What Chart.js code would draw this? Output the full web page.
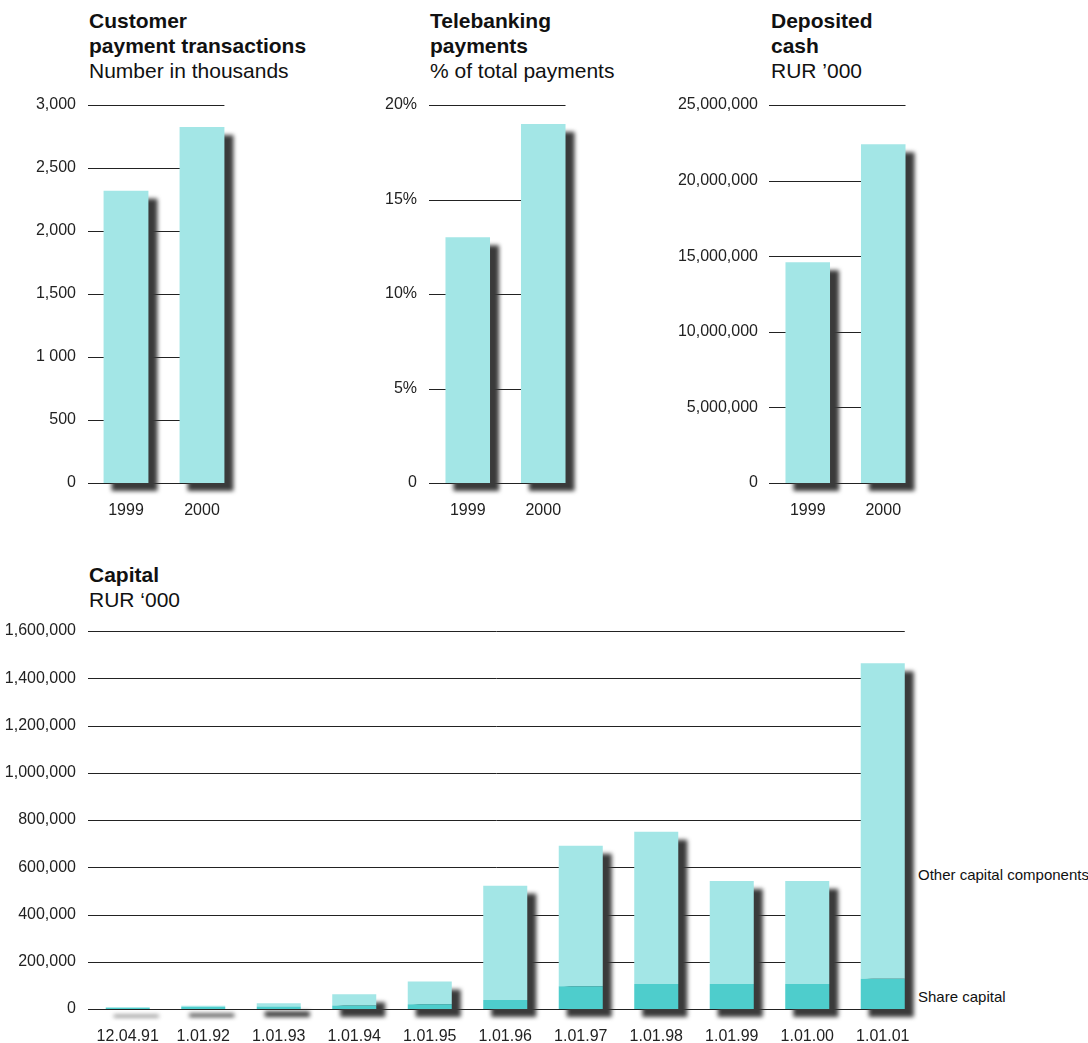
<!DOCTYPE html>
<html>
<head>
<meta charset="utf-8">
<script src="https://cdn.jsdelivr.net/npm/chart.js@4"></script>
<style>
  body { margin: 0; background: #fff; width: 1088px; height: 1043px; overflow: hidden; position: relative;
         font-family: "Liberation Sans", Arial, sans-serif; color: #111; }
  canvas { position: absolute; }
  .ttl { position: absolute; font-size: 21px; line-height: 25px; white-space: nowrap; }
  .ttl b { display: block; }
  .side { position: absolute; font-size: 15px; line-height: 18px; white-space: nowrap; color: #111; }
</style>
</head>
<body>

<div class="ttl" style="left:89px;top:8px"><b>Customer</b><b>payment transactions</b>Number in thousands</div>
<div class="ttl" style="left:430px;top:8px"><b>Telebanking</b><b>payments</b>% of total payments</div>
<div class="ttl" style="left:771px;top:8px"><b>Deposited</b><b>cash</b>RUR ’000</div>
<div class="ttl" style="left:89px;top:562px"><b>Capital</b>RUR ‘000</div>
<div class="side" style="left:918px;top:866px">Other capital components</div>
<div class="side" style="left:918px;top:988px">Share capital</div>

<canvas id="c1"></canvas>
<canvas id="c2"></canvas>
<canvas id="c3"></canvas>
<canvas id="c4"></canvas>

<script>
var years = ['1999', '2000'];

var paymentTx = [2320, 2825];
var txTicks = ['0', '500', '1 000', '1,500', '2,000', '2,500', '3,000'];

var telebanking = [13, 19];
var pctTicks = ['0', '5%', '10%', '15%', '20%'];

var depositedCash = [14600000, 22400000];
var cashTicks = ['0', '5,000,000', '10,000,000', '15,000,000', '20,000,000', '25,000,000'];

var capitalDates = ['12.04.91', '1.01.92', '1.01.93', '1.01.94', '1.01.95', '1.01.96',
                    '1.01.97', '1.01.98', '1.01.99', '1.01.00', '1.01.01'];
var shareCapital = [5000, 8000, 11000, 15000, 20000, 38000, 96000, 106000, 106000, 106000, 128000];
var otherCapital = [2000, 6000, 13000, 47000, 96000, 484000, 595000, 644000, 436000, 436000, 1335000];
var capTicks = ['0', '200,000', '400,000', '600,000', '800,000', '1,000,000', '1,200,000', '1,400,000', '1,600,000'];

var LIGHT = '#a3e6e6';
var DARK = '#4ecdcc';
var TOP_PAD = 25;

// grid lines stop at the last bar, shadows sit under the bars
var shadowGrid = {
  id: 'shadowGrid',
  beforeDatasetsDraw: function (chart, args, opts) {
    var ctx = chart.ctx, y = chart.scales.y;
    var metas = chart.getSortedVisibleDatasetMetas();
    var n = metas[0].data.length;
    var last = metas[0].data[n - 1];
    var right = last.x + last.width / 2;
    var from = chart.chartArea.left + opts.gridOffset;
    ctx.save();
    ctx.strokeStyle = '#222';
    ctx.lineWidth = 1;
    y.ticks.forEach(function (t) {
      var py = Math.round(y.getPixelForValue(t.value)) + 0.5;
      ctx.beginPath();
      ctx.moveTo(from, py);
      ctx.lineTo(right, py);
      ctx.stroke();
    });
    ctx.filter = 'blur(2px)';
    ctx.fillStyle = '#3a3a3a';
    for (var i = 0; i < n; i++) {
      var el0 = metas[0].data[i], top = el0.y;
      metas.forEach(function (m) { top = Math.min(top, m.data[i].y); });
      ctx.fillRect(el0.x - el0.width / 2 + 8, top + 8, el0.width + 1, el0.base - top);
    }
    ctx.restore();
  }
};

function makeChart(id, box, labels, datasets, yMax, yStep, tickLabels, barPct, tickPad, gridOffset) {
  var cv = document.getElementById(id);
  var ct = box.t - TOP_PAD;
  cv.style.left = box.cl + 'px';
  cv.style.top = ct + 'px';
  cv.width = box.cw;
  cv.height = box.bottom - ct;
  var stacked = datasets.length > 1;
  return new Chart(cv, {
    type: 'bar',
    data: { labels: labels, datasets: datasets },
    plugins: [shadowGrid],
    options: {
      responsive: false,
      animation: false,
      events: [],
      layout: { padding: { top: TOP_PAD, right: box.cl + box.cw - box.r, left: 0, bottom: 0 } },
      datasets: { bar: { categoryPercentage: 1, barPercentage: barPct, borderWidth: 0 } },
      plugins: { legend: { display: false }, tooltip: { enabled: false }, shadowGrid: { gridOffset: gridOffset } },
      scales: {
        x: {
          stacked: stacked,
          grid: { display: false, drawTicks: false },
          border: { display: false },
          ticks: { color: '#222', padding: 18, maxRotation: 0, autoSkip: false,
                   font: { family: 'Liberation Sans', size: 16 } },
          afterFit: function (s) { s.height = box.bottom - box.b; }
        },
        y: {
          stacked: stacked,
          min: 0, max: yMax,
          grid: { display: false, drawTicks: false },
          border: { display: false },
          ticks: {
            stepSize: yStep, color: '#222', padding: tickPad,
            font: { family: 'Liberation Sans', size: 16 },
            callback: function (v, i) { return tickLabels[i]; }
          },
          afterFit: function (s) { s.width = box.l - box.cl; }
        }
      }
    }
  });
}

makeChart('c1', { cl: 0, cw: 250, l: 88, t: 105, r: 240, b: 483, bottom: 530 },
  years, [{ data: paymentTx, backgroundColor: LIGHT }], 3000, 500, txTicks, 0.59, 12, 0);

makeChart('c2', { cl: 340, cw: 251, l: 430, t: 105, r: 581, b: 483, bottom: 530 },
  years, [{ data: telebanking, backgroundColor: LIGHT }], 20, 5, pctTicks, 0.59, 13, -1);

makeChart('c3', { cl: 660, cw: 271, l: 770, t: 105, r: 921, b: 483, bottom: 530 },
  years, [{ data: depositedCash, backgroundColor: LIGHT }], 25000000, 5000000, cashTicks, 0.59, 12, -1);

makeChart('c4', { cl: 0, cw: 930, l: 90, t: 631, r: 920.5, b: 1009, bottom: 1043 },
  capitalDates, [
    { label: 'Share capital', data: shareCapital, backgroundColor: DARK },
    { label: 'Other capital components', data: otherCapital, backgroundColor: LIGHT }
  ], 1600000, 200000, capTicks, 0.583, 14, -2);
</script>
</body>
</html>
